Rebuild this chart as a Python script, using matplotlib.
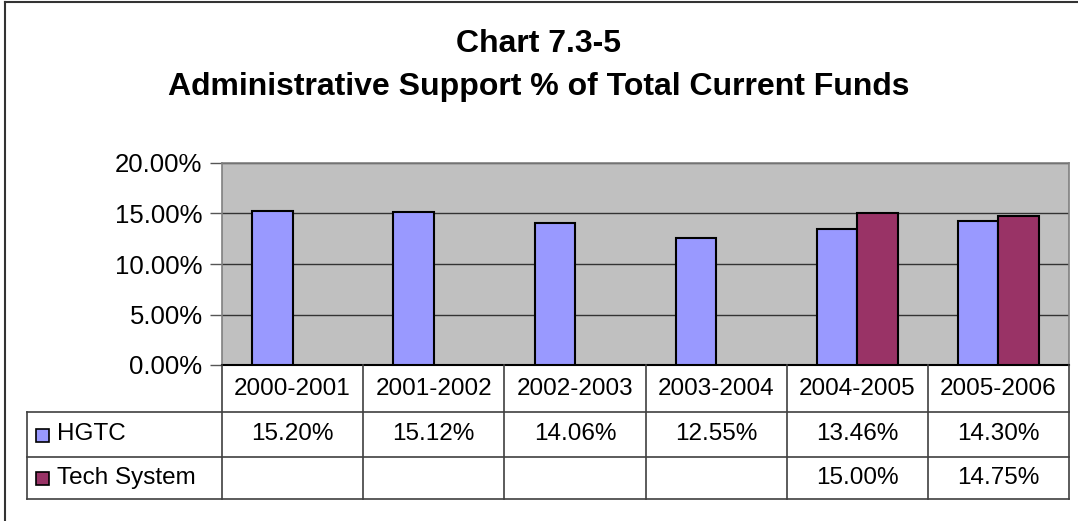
import matplotlib
matplotlib.use("Agg")
import matplotlib.pyplot as plt
from matplotlib.patches import Rectangle
from matplotlib.lines import Line2D
import numpy as np

plt.rcParams['font.family'] = ['Liberation Sans', 'DejaVu Sans']

categories = ["2000-2001", "2001-2002", "2002-2003", "2003-2004", "2004-2005", "2005-2006"]
hgtc = [15.20, 15.12, 14.06, 12.55, 13.46, 14.30]
tech = [None, None, None, None, 15.00, 14.75]
series_names = ["HGTC", "Tech System"]
yticks = [0, 5, 10, 15, 20]
title_lines = ["Chart 7.3-5", "Administrative Support % of Total Current Funds"]

W, H = 1078, 521
fig = plt.figure(figsize=(W / 100, H / 100), dpi=100)

def fx(px):
    return px / W

def fy(py):
    return 1 - py / H

# outer border (right/bottom edges lie outside the image)
fig.add_artist(Line2D([fx(5), fx(5)], [fy(2), fy(530)], color='#333333', linewidth=1.5))
fig.add_artist(Line2D([fx(5), fx(1090)], [fy(2), fy(2)], color='#333333', linewidth=1.5))

fig.text(0.5, fy(52), title_lines[0], ha='center', va='baseline', fontsize=23, fontweight='bold')
fig.text(0.5, fy(95), title_lines[1], ha='center', va='baseline', fontsize=23, fontweight='bold')

L, R, T, B = 222, 1069, 163, 365
ax = fig.add_axes([fx(L), fy(B), fx(R - L), (B - T) / H])
ax.set_facecolor('#C0C0C0')
n = len(categories)
x = np.arange(n)
bw = 1 / 3.5
c1, c2 = '#9999FF', '#993366'
ax.bar(x - bw / 2, hgtc, width=bw, color=c1, edgecolor='black', linewidth=1.5, zorder=3)
tv = [np.nan if v is None else v for v in tech]
ax.bar(x + bw / 2, tv, width=bw, color=c2, edgecolor='black', linewidth=1.5, zorder=3)
ax.set_xlim(-0.5, n - 0.5)
ax.set_ylim(0, 20)
ax.set_yticks(yticks)
ax.set_yticklabels([f"{v:.2f}%" for v in yticks], fontsize=18.5)
ax.yaxis.grid(True, color='#333333', linewidth=1)
ax.set_axisbelow(True)
ax.set_xticks([])
ax.tick_params(axis='y', length=9, width=1, color='#555555', pad=5)
for s in ['top', 'right', 'left']:
    ax.spines[s].set_color('#808080')
    ax.spines[s].set_linewidth(1.2)
ax.spines['bottom'].set_color('black')
ax.spines['bottom'].set_linewidth(1.5)

# data table
rows = [(365, 412), (412, 457), (457, 499)]
colw = (R - L) / n
lc = '#404040'
def hline(y, x0, x1):
    fig.add_artist(Line2D([fx(x0), fx(x1)], [fy(y), fy(y)], color=lc, linewidth=1.2))
def vline(xp, y0, y1):
    fig.add_artist(Line2D([fx(xp), fx(xp)], [fy(y0), fy(y1)], color=lc, linewidth=1.2))

hline(412, 27, R)
hline(457, 27, R)
hline(499, 27, R)
vline(27, 412, 499)
for i in range(n + 1):
    vline(L + i * colw, 365, 499)

fs = 17.5
for i, c in enumerate(categories):
    fig.text(fx(L + (i + 0.5) * colw), fy(389), c, ha='center', va='center', fontsize=fs)
vals = [hgtc, tech]
colors = [c1, c2]
for r, (name, vs, col) in enumerate(zip(series_names, vals, colors)):
    y0, y1 = rows[r + 1]
    yc = (y0 + y1) / 2
    fig.patches.append(Rectangle((fx(36), fy(yc + 7)), fx(13), 13 / H, transform=fig.transFigure,
                                 facecolor=col, edgecolor='black', linewidth=1.2))
    fig.text(fx(57), fy(yc), name, ha='left', va='center', fontsize=fs)
    for i, v in enumerate(vs):
        if v is not None:
            fig.text(fx(L + (i + 0.5) * colw), fy(yc), f"{v:.2f}%", ha='center', va='center', fontsize=fs)

fig.savefig("out.png", dpi=100)
